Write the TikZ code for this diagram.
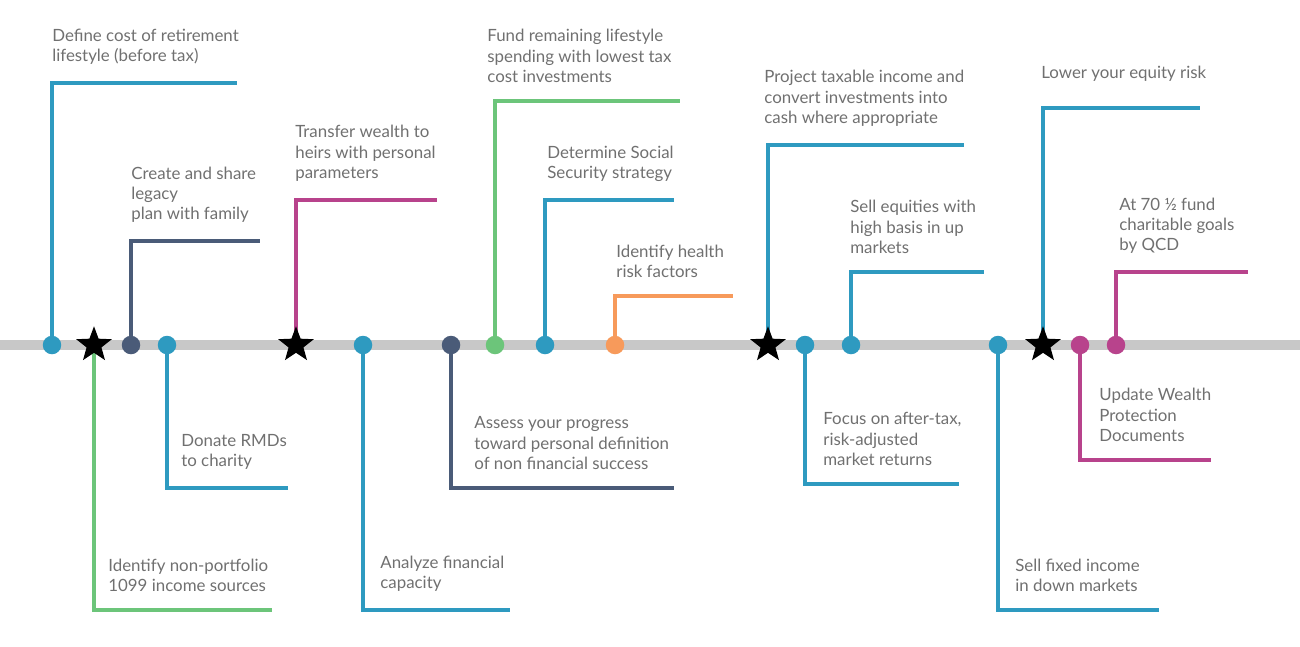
\documentclass[tikz,border=0pt]{standalone}
\usepackage{fontspec}
\setmainfont{Lato}
\usetikzlibrary{shapes.geometric}

\definecolor{tlblue}{HTML}{2E9AC0}
\definecolor{tlslate}{HTML}{4A5B78}
\definecolor{tlgreen}{HTML}{6CC57A}
\definecolor{tlpink}{HTML}{B8438C}
\definecolor{tlorange}{HTML}{F79A5B}
\definecolor{tlgray}{HTML}{C8C8C8}
\definecolor{tltext}{HTML}{707070}

\tikzset{
	dot/.style={circle,fill=#1,minimum size=0.37cm,inner sep=0pt},
	milestone/.style={star,star points=5,star point ratio=2.4,fill=black,minimum size=0.75cm,inner sep=0pt},
	stem/.style={line width=1.9pt},
	label/.style={anchor=south west,align=left,inner sep=0pt,text=tltext,font=\fontsize{9.6}{11.6}\selectfont}
}

\begin{document}
\begin{tikzpicture}[x=0.02cm,y=-0.02cm]
    \useasboundingbox (0,0) rectangle (1300,646);
    \draw [tlgray,line width=5.7pt] (0,345) -- (1300,345);

    % kind/x/corner y/end x/text x/text gap/colour/text
    \foreach \i/\k/\x/\yh/\xe/\xt/\g/\c/\txt in {
      1/d/52/83/237/52/18/tlblue/{Define cost of retirement\\lifestyle (before tax)},
      2/s/94/610/272/108/18/tlgreen/{Identify non-portfolio\\1099 income sources},
      3/d/131/241/260/131/18/tlslate/{Create and share\\legacy\\plan with family},
      4/d/167/488/288/181/18/tlblue/{Donate RMDs\\to charity},
      5/s/296/200/437/295/18/tlpink/{Transfer wealth to\\heirs with personal\\parameters},
      6/d/363/610/510/380/18/tlblue/{Analyze financial\\capacity},
      7/d/451/488/674/474/18/tlslate/{Assess your progress\\toward personal definition\\of non financial success},
      8/d/495/101/680/487/18/tlgreen/{Fund remaining lifestyle\\spending with lowest tax\\cost investments},
      9/d/545/200/674/547/18/tlblue/{Determine Social\\Security strategy},
      10/d/615/296/733/616/18/tlorange/{Identify health\\risk factors},
      11/s/768/145/964/764/18/tlblue/{Project taxable income and\\convert investments into\\cash where appropriate},
      12/d/805/484/959/823/18/tlblue/{Focus on after-tax,\\risk-adjusted\\market returns},
      13/d/851/272/984/850/18/tlblue/{Sell equities with\\high basis in up\\markets},
      14/d/998/610/1159/1015/18/tlblue/{Sell fixed income\\in down markets},
      15/s/1043/108/1200/1041/26/tlblue/{Lower your equity risk},
      16/d/1080/460/1211/1099/18/tlpink/{Update Wealth\\Protection\\Documents},
      17/d/1116/272/1248/1119/18/tlpink/{At 70 ½ fund\\charitable goals\\by QCD}} {
      \coordinate (c\i) at (\x,\yh);
      \coordinate (e\i) at (\xe,\yh);
      \draw [stem,\c] (\x,345) -- (c\i) -- (e\i);
      \if\k s
        \node [milestone] (m\i) at (\x,345) {};
      \else
        \node [dot=\c] (m\i) at (\x,345) {};
      \fi
      \node [label] (t\i) at (\xt,\yh-\g) {\txt};
    }
\end{tikzpicture}
\end{document}
